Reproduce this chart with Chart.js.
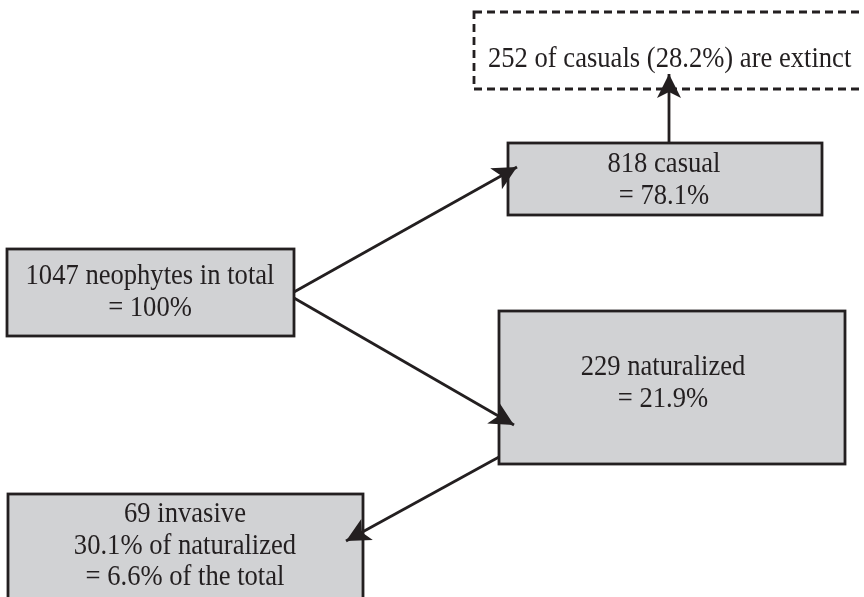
<!DOCTYPE html>
<html>
<head>
<meta charset="utf-8">
<script src="https://cdn.jsdelivr.net/npm/chart.js@4"></script>
<style>
  html,body{margin:0;padding:0;background:#fff;}
  #wrap{width:864px;height:597px;}
</style>
</head>
<body>
<div id="wrap"><canvas id="flow" width="864" height="597"></canvas></div>
<script>
// data
const groups   = ['neophytes in total', 'casual', 'naturalized', 'invasive', 'casuals extinct'];
const counts   = [1047, 818, 229, 69, 252];
const pctTotal = ['100%', '78.1%', '21.9%', '6.6%'];
const pctOfParent = ['30.1%', '28.2%']; // invasive of naturalized, extinct of casuals

// layout on a 864 x 597 grid (x0, y0, x1, y1)
const boxRects = [
  [7, 249, 294, 336],    // total
  [508, 143, 822, 215],  // casual
  [499, 311, 845, 464],  // naturalized
  [8, 494, 363, 615],    // invasive
  [474, 12, 875, 89]     // extinct (dashed)
];
const textAnchor = [[150, 284], [664, 172], [663, 375], [185, 522], [488, 67]];
const arrows = [
  [294, 292, 517, 167],
  [294, 298, 514, 425],
  [499, 457, 346, 541],
  [669, 143, 669, 74]
];

const boxLines = [
  [counts[0] + ' ' + groups[0], '= ' + pctTotal[0]],
  [counts[1] + ' ' + groups[1], '= ' + pctTotal[1]],
  [counts[2] + ' ' + groups[2], '= ' + pctTotal[2]],
  [counts[3] + ' ' + groups[3], pctOfParent[0] + ' of naturalized', '= ' + pctTotal[3] + ' of the total'],
  [counts[4] + ' of casuals (' + pctOfParent[1] + ') are extinct']
];

const INK = '#231f20', FILL = '#d1d2d4';
const LINE_H = 31.5, STRETCH = 1.08;

const flowPlugin = {
  id: 'flow',
  beforeDatasetsDraw(chart) {
    const {ctx, scales: {x, y}} = chart;
    boxRects.forEach((r, i) => {
      const x0 = x.getPixelForValue(r[0]), y0 = y.getPixelForValue(r[1]);
      const x1 = x.getPixelForValue(r[2]), y1 = y.getPixelForValue(r[3]);
      ctx.save();
      ctx.lineWidth = 2.8;
      ctx.strokeStyle = INK;
      if (i === 4) {
        ctx.setLineDash([8, 5]);
      } else {
        ctx.fillStyle = FILL;
        ctx.fillRect(x0, y0, x1 - x0, y1 - y0);
      }
      ctx.strokeRect(x0, y0, x1 - x0, y1 - y0);
      ctx.restore();

      ctx.save();
      ctx.fillStyle = INK;
      ctx.font = '26.6px "Liberation Serif", "Times New Roman", serif';
      ctx.textAlign = i === 4 ? 'left' : 'center';
      ctx.textBaseline = 'alphabetic';
      const ax = x.getPixelForValue(textAnchor[i][0]);
      boxLines[i].forEach((t, k) => {
        const by = y.getPixelForValue(textAnchor[i][1] + k * LINE_H);
        ctx.save();
        ctx.translate(ax, by);
        ctx.scale(1, STRETCH);
        ctx.fillText(t, 0, 0);
        ctx.restore();
      });
      ctx.restore();
    });
  },
  afterDatasetsDraw(chart) {
    const {ctx, scales: {x, y}} = chart;
    arrows.forEach(a => {
      const sx = x.getPixelForValue(a[0]), sy = y.getPixelForValue(a[1]);
      const tx = x.getPixelForValue(a[2]), ty = y.getPixelForValue(a[3]);
      const len = Math.hypot(tx - sx, ty - sy);
      const ux = (tx - sx) / len, uy = (ty - sy) / len;
      const nx = -uy, ny = ux;
      const L = 24, W = 12, notch = 6;
      ctx.save();
      ctx.fillStyle = INK;
      ctx.beginPath();
      ctx.moveTo(tx, ty);
      ctx.lineTo(tx - L * ux + W * nx, ty - L * uy + W * ny);
      ctx.lineTo(tx - (L - notch) * ux, ty - (L - notch) * uy);
      ctx.lineTo(tx - L * ux - W * nx, ty - L * uy - W * ny);
      ctx.closePath();
      ctx.fill();
      ctx.restore();
    });
  }
};

new Chart(document.getElementById('flow'), {
  type: 'scatter',
  data: {
    datasets: arrows.map(a => ({
      data: [{x: a[0], y: a[1]}, {x: a[2], y: a[3]}],
      showLine: true,
      borderColor: INK,
      borderWidth: 2.8,
      pointRadius: 0,
      clip: false
    }))
  },
  options: {
    responsive: false,
    animation: false,
    layout: {padding: 0},
    plugins: {legend: {display: false}, tooltip: {enabled: false}},
    scales: {
      x: {type: 'linear', min: 0, max: 864, display: false},
      y: {type: 'linear', min: 0, max: 597, reverse: true, display: false}
    }
  },
  plugins: [flowPlugin]
});
</script>
</body>
</html>
